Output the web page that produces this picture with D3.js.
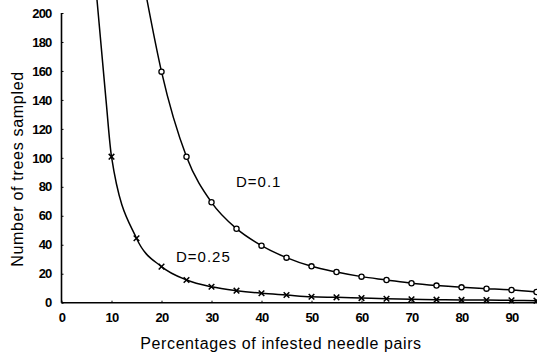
<!DOCTYPE html>
<html><head><meta charset="utf-8">
<script src="https://cdn.jsdelivr.net/npm/d3@7"></script>
<style>
html,body{margin:0;padding:0;background:#fff;}
svg{display:block;}
</style></head>
<body>
<svg id="chart" width="537" height="357"></svg>
<script>
// Data
const xTicks = [0, 10, 20, 30, 40, 50, 60, 70, 80, 90];
const yTicks = [0, 20, 40, 60, 80, 100, 120, 140, 160, 180, 200];

// D = 0.1 (open circles)
const pctD01 = [20, 25, 30, 35, 40, 45, 50, 55, 60, 65, 70, 75, 80, 85, 90, 95];
const valD01 = [159.5, 100.8, 69.3, 51.1, 39.4, 31.1, 25.1, 21.2, 18.0, 15.7, 13.4, 11.8, 10.6, 9.7, 8.8, 7.4];
// curve continuation above the top of the plot (no marker)
const extPctD01 = [17.1];
const extValD01 = [209];

// D = 0.25 (crosses)
const pctD025 = [10, 15, 20, 25, 30, 35, 40, 45, 50, 55, 60, 65, 70, 75, 80, 85, 90, 95];
const valD025 = [100.8, 44.5, 24.9, 15.7, 11.0, 8.3, 6.5, 5.3, 4.1, 3.7, 3.2, 2.7, 2.4, 2.1, 1.9, 1.8, 1.6, 1.4];
const extPctD025 = [7.1, 8.9];
const extValD025 = [209, 140];

const labels = ["D=0.1", "D=0.25"];

const svg = d3.select("#chart");
const x = d3.scaleLinear().domain([0, 95]).range([61.5, 536.5]);
const y = d3.scaleLinear().domain([0, 200]).range([302.7, 13]);

const tickFont = "'Liberation Sans', Arial, sans-serif";

// axes lines
svg.append("line").attr("x1", x(0)).attr("x2", x(0)).attr("y1", y(200)).attr("y2", y(0))
  .attr("stroke", "#000").attr("stroke-width", 1.6);
svg.append("line").attr("x1", x(0)).attr("x2", 537).attr("y1", y(0)).attr("y2", y(0))
  .attr("stroke", "#000").attr("stroke-width", 1.4);

// y axis
const yAxis = d3.axisLeft(y).tickValues(yTicks).tickSize(-2).tickPadding(10).tickFormat(d3.format("d"));
const gy = svg.append("g").attr("transform", `translate(${x(0)},0)`).call(yAxis);
gy.select(".domain").remove();
gy.selectAll(".tick line").attr("stroke", "#000").attr("stroke-width", 1);
gy.selectAll("text").attr("font-family", tickFont).attr("font-weight", "bold")
  .attr("font-size", 13).attr("fill", "#000").attr("letter-spacing", -0.8);

// x axis
const xAxis = d3.axisBottom(x).tickValues(xTicks).tickSize(-2).tickPadding(10).tickFormat(d3.format("d"));
const gx = svg.append("g").attr("transform", `translate(0,${y(0)})`).call(xAxis);
gx.select(".domain").remove();
gx.selectAll(".tick line").attr("stroke", "#000").attr("stroke-width", 1);
gx.selectAll("text").attr("font-family", tickFont).attr("font-weight", "bold")
  .attr("font-size", 13).attr("fill", "#000").attr("letter-spacing", -0.8);

// curves
const line = d3.line().x(d => x(d[0])).y(d => y(d[1])).curve(d3.curveMonotoneX);
const ptsD01 = extPctD01.map((p, i) => [p, extValD01[i]]).concat(pctD01.map((p, i) => [p, valD01[i]]));
const ptsD025 = extPctD025.map((p, i) => [p, extValD025[i]]).concat(pctD025.map((p, i) => [p, valD025[i]]));

svg.append("path").datum(ptsD01).attr("d", line).attr("fill", "none")
  .attr("stroke", "#000").attr("stroke-width", 1.5);
svg.append("path").datum(ptsD025).attr("d", line).attr("fill", "none")
  .attr("stroke", "#000").attr("stroke-width", 1.5);

// markers
svg.append("g").selectAll("circle").data(pctD01.map((p, i) => [p, valD01[i]])).join("circle")
  .attr("cx", d => x(d[0])).attr("cy", d => y(d[1])).attr("r", 2.6)
  .attr("fill", "#fff").attr("stroke", "#000").attr("stroke-width", 1.3);

const s = 2.8;
svg.append("g").selectAll("path").data(pctD025.map((p, i) => [p, valD025[i]])).join("path")
  .attr("d", d => {
    const cx = x(d[0]), cy = y(d[1]);
    return `M${cx - s},${cy - s}L${cx + s},${cy + s}M${cx - s},${cy + s}L${cx + s},${cy - s}`;
  })
  .attr("stroke", "#000").attr("stroke-width", 1.5).attr("fill", "none");

// series labels
const lblFont = "'Liberation Sans', Arial, sans-serif";
svg.append("text").attr("x", 236).attr("y", 187).text(labels[0])
  .attr("font-family", lblFont).attr("font-size", 15).attr("letter-spacing", 1).attr("fill", "#000");
svg.append("text").attr("x", 176).attr("y", 262).text(labels[1])
  .attr("font-family", lblFont).attr("font-size", 15).attr("letter-spacing", 1).attr("fill", "#000");

// axis titles
svg.append("text").attr("transform", "translate(23,169) rotate(-90)").attr("text-anchor", "middle")
  .attr("font-family", lblFont).attr("font-size", 16).attr("letter-spacing", 0.7).attr("fill", "#000")
  .text("Number of trees sampled");
svg.append("text").attr("x", 281).attr("y", 349).attr("text-anchor", "middle")
  .attr("font-family", lblFont).attr("font-size", 16).attr("letter-spacing", 0.6).attr("fill", "#000")
  .text("Percentages of infested needle pairs");
</script>
</body></html>
